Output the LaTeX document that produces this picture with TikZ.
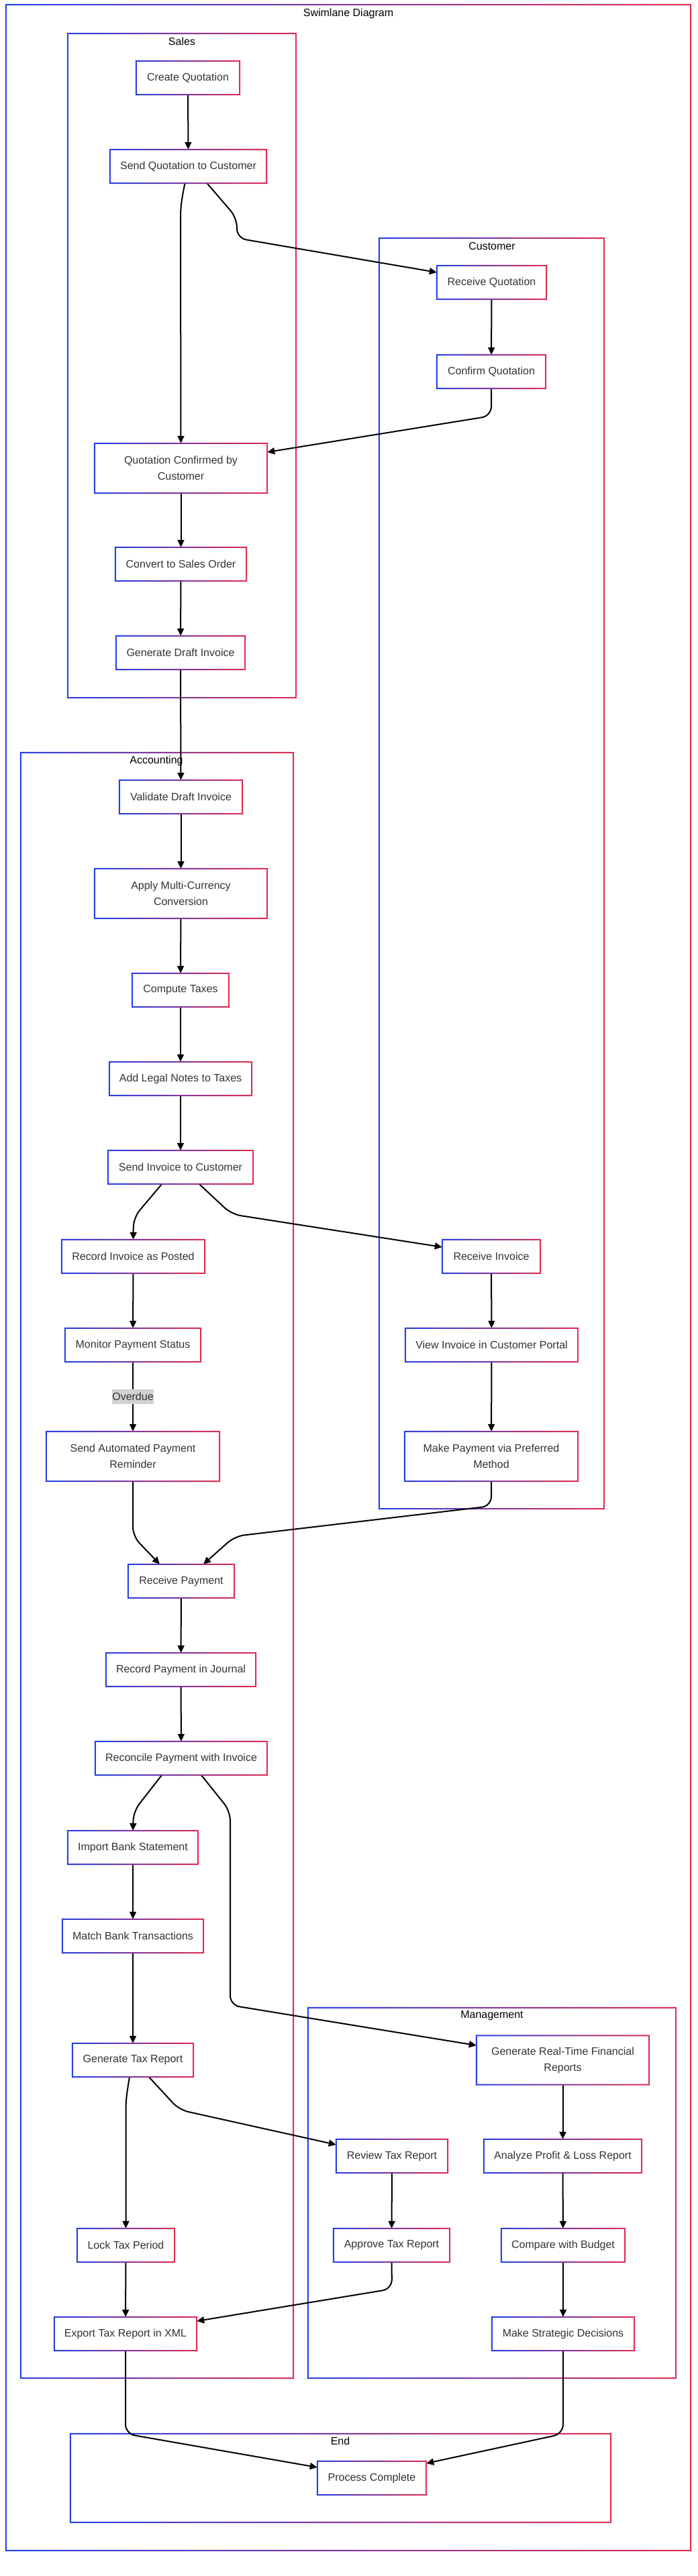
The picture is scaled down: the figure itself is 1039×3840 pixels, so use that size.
\documentclass[tikz,border=0pt]{standalone}
\usepackage{fontspec}
\setmainfont{Liberation Sans}
\usetikzlibrary{arrows.meta,calc}
\definecolor{gblue}{RGB}{37,64,229}
\definecolor{gred}{RGB}{225,45,80}
\definecolor{txt}{RGB}{51,51,51}
\definecolor{lblbg}{RGB}{210,210,210}
\newcommand\gring[1]{%
  \shade[left color=gblue, right color=gred, even odd rule]
   ([shift={(-1pt,-1pt)}]#1.south west) rectangle ([shift={(1pt,1pt)}]#1.north east)
   ([shift={(1pt,1pt)}]#1.south west) rectangle ([shift={(-1pt,-1pt)}]#1.north east);}
\tikzset{
  box/.style={rectangle, fill=white, inner sep=0pt, minimum height=50pt, align=center,
    text=txt, font=\fontsize{16}{24}\selectfont},
  tallbox/.style={box, minimum height=74pt},
  lane/.style={rectangle, inner sep=0pt},
  lanelabel/.style={inner sep=0pt, text=black, font=\fontsize{16}{19}\selectfont},
  edge/.style={draw=black, line width=2pt, rounded corners=14pt,
    -{Triangle[length=11pt,width=10pt]}},
  elabel/.style={fill=lblbg, inner sep=0pt, minimum width=60pt, minimum height=22pt,
    text=txt, font=\fontsize{16}{19}\selectfont}
}
\begin{document}
\begin{tikzpicture}[x=1pt,y=-1pt]
\fill[white] (0,0) rectangle (1039,3840);
\useasboundingbox (0,0) rectangle (1039,3840);
% lanes
\node[lane, minimum width=1020, minimum height=3795] (outer) at (519,1904.5) {};
\node[lane, minimum width=340, minimum height=990] (salesLane) at (271,545) {};
\node[lane, minimum width=335, minimum height=1894] (custLane) at (732.5,1302) {};
\node[lane, minimum width=406, minimum height=2423] (accLane) at (234,2333.5) {};
\node[lane, minimum width=548, minimum height=552] (mgmtLane) at (733,3269) {};
\node[lane, minimum width=805, minimum height=132] (endLane) at (507.5,3694) {};
\foreach \n in {outer,salesLane,custLane,accLane,mgmtLane,endLane} {\gring{\n}}
\node[lanelabel] (titleLbl) at (519,20) {Swimlane Diagram};
\node[lanelabel] (salesLbl) at (271,62) {Sales};
\node[lanelabel] (custLbl) at (733,367) {Customer};
\node[lanelabel] (accLbl) at (233,1134) {Accounting};
\node[lanelabel] (mgmtLbl) at (733,3005) {Management};
\node[lanelabel] (endLbl) at (507,3639) {End};
% nodes
\node[box, minimum width=154] (cq) at (280,116) {Create Quotation};
\node[box, minimum width=233] (sq) at (280.5,248) {Send Quotation to Customer};
\node[box, minimum width=163] (rq) at (732.5,421) {Receive Quotation};
\node[box, minimum width=162] (cfq) at (732,554) {Confirm Quotation};
\node[tallbox, minimum width=257] (qc) at (269.5,698) {Quotation Confirmed by\\Customer};
\node[box, minimum width=195] (cso) at (269.5,841) {Convert to Sales Order};
\node[box, minimum width=192] (gdi) at (269,973) {Generate Draft Invoice};
\node[box, minimum width=183] (vdi) at (269.5,1188) {Validate Draft Invoice};
\node[tallbox, minimum width=257] (amc) at (269.5,1332) {Apply Multi-Currency\\Conversion};
\node[box, minimum width=144] (ct) at (269,1476) {Compute Taxes};
\node[box, minimum width=212] (aln) at (269,1608) {Add Legal Notes to Taxes};
\node[box, minimum width=216] (sic) at (269,1740) {Send Invoice to Customer};
\node[box, minimum width=213] (rip) at (198.5,1873) {Record Invoice as Posted};
\node[box, minimum width=146] (ri) at (732,1873) {Receive Invoice};
\node[box, minimum width=202] (mps) at (198,2005) {Monitor Payment Status};
\node[tallbox, minimum width=258] (sapr) at (198,2171) {Send Automated Payment\\Reminder};
\node[box, minimum width=257] (vicp) at (732.5,2005) {View Invoice in Customer Portal};
\node[tallbox, minimum width=258] (mpm) at (732,2171) {Make Payment via Preferred\\Method};
\node[box, minimum width=158] (rp) at (270,2357) {Receive Payment};
\node[box, minimum width=223] (rpj) at (269.5,2489) {Record Payment in Journal};
\node[box, minimum width=256] (rpi) at (270,2621) {Reconcile Payment with Invoice};
\node[box, minimum width=194] (ibs) at (198,2754) {Import Bank Statement};
\node[box, minimum width=210] (mbt) at (198,2886) {Match Bank Transactions};
\node[box, minimum width=180] (gtr) at (198,3071) {Generate Tax Report};
\node[tallbox, minimum width=257, minimum height=73] (grf) at (838.5,3071) {Generate Real-Time Financial\\Reports};
\node[box, minimum width=166] (rtr) at (584,3214) {Review Tax Report};
\node[box, minimum width=235] (apl) at (838.5,3214) {Analyze Profit \& Loss Report};
\node[box, minimum width=145] (ltp) at (187.5,3347) {Lock Tax Period};
\node[box, minimum width=173] (atr) at (583.5,3347) {Approve Tax Report};
\node[box, minimum width=184] (cwb) at (839,3347) {Compare with Budget};
\node[box, minimum width=212] (etr) at (187,3479) {Export Tax Report in XML};
\node[box, minimum width=212] (msd) at (839,3479) {Make Strategic Decisions};
\node[box, minimum width=162] (pc) at (554,3694) {Process Complete};
% edges
\draw[edge] (cq) -- (sq);
\draw[edge] ([xshift=28pt]sq.south) -- (353,325) -- (353,355) -- ([yshift=15pt]rq.west);
\draw[edge] ([xshift=-5pt]sq.south) .. controls (270,300) and (269,310) .. (269,340) -- (qc.north);
\draw[edge] (rq) -- (cfq);
\draw[edge] (cfq.south) -- (732,620) -- ([yshift=24pt]qc.east);
\draw[edge] (qc) -- (cso);
\draw[edge] (cso) -- (gdi);
\draw[edge] (gdi) -- (vdi);
\draw[edge] (vdi) -- (amc);
\draw[edge] (amc) -- (ct);
\draw[edge] (ct) -- (aln);
\draw[edge] (aln) -- (sic);
\draw[edge] ([xshift=-28pt]sic.south) -- (199,1815) -- (rip.north);
\draw[edge] ([xshift=28pt]sic.south) -- (345,1810) -- ([yshift=14pt]ri.west);
\draw[edge] (rip) -- (mps);
\draw[edge] (ri) -- (vicp);
\draw[edge] (mps) -- (sapr);
\node[elabel] (ovd) at ($(mps.south)!0.5!(sapr.north)$) {Overdue};
\draw[edge] (vicp) -- (mpm);
\draw[edge] (sapr.south) -- (198,2290) -- ([xshift=-32pt]rp.north);
\draw[edge] (mpm.south) -- (732,2245) -- (350,2290) -- ([xshift=33pt]rp.north);
\draw[edge] (rp) -- (rpj);
\draw[edge] (rpj) -- (rpi);
\draw[edge] ([xshift=-29pt]rpi.south) -- (199,2700) -- (ibs.north);
\draw[edge] ([xshift=30pt]rpi.south) -- (343,2700) -- (343,2989) -- ([yshift=22pt]grf.west);
\draw[edge] (ibs) -- (mbt);
\draw[edge] (mbt) -- (gtr);
\draw[edge] ([xshift=-5pt]gtr.south) .. controls (189,3120) and (187.5,3130) .. (187.5,3160) -- (ltp.north);
\draw[edge] ([xshift=24pt]gtr.south) -- (267,3145) -- ([yshift=17pt]rtr.west);
\draw[edge] (grf) -- (apl);
\draw[edge] (apl) -- (cwb);
\draw[edge] (cwb) -- (msd);
\draw[edge] (rtr) -- (atr);
\draw[edge] (ltp) -- (etr);
\draw[edge] (atr.south) -- (584,3412) -- ([yshift=19pt]etr.east);
\draw[edge] (etr.south) -- (187,3628) -- ([yshift=16pt]pc.west);
\draw[edge] (msd.south) -- (839,3628) -- ([yshift=22pt]pc.east);
% gradient borders of nodes
\foreach \n in {cq,sq,rq,cfq,qc,cso,gdi,vdi,amc,ct,aln,sic,rip,ri,mps,sapr,vicp,mpm,rp,rpj,rpi,ibs,mbt,gtr,grf,rtr,apl,ltp,atr,cwb,etr,msd,pc} {\gring{\n}}
\end{tikzpicture}
\end{document}
